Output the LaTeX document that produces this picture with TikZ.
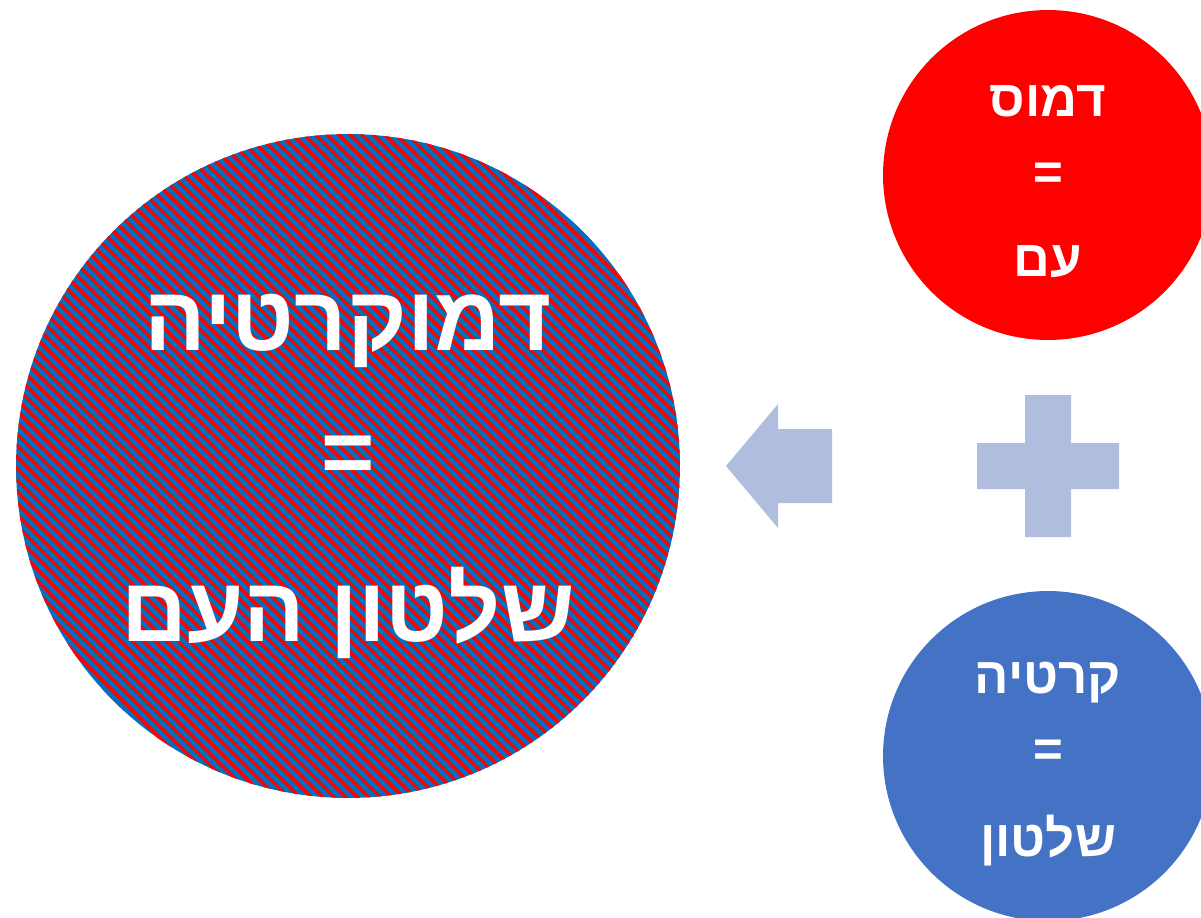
\documentclass[tikz,border=0pt]{standalone}
\usepackage{fontspec}
\newfontfamily\hebfont[Script=Hebrew]{Liberation Sans}
\TeXXeTstate=1

\definecolor{stripeblue}{HTML}{0070C0}
\definecolor{stripered}{HTML}{FF0000}
\definecolor{kratblue}{HTML}{4472C4}
\definecolor{signblue}{HTML}{B0BDDE}

\newcommand*{\rtltext}[1]{\beginR #1\endR}

\tikzset{
	disc/.style={circle, inner sep=0pt, minimum size=6.6cm},
	disctext/.style={inner sep=0pt, text=white, align=center, font=\hebfont\bfseries\fontsize{29}{42}\selectfont},
	bigtext/.style={inner sep=0pt, text=white, align=center, font=\hebfont\bfseries\fontsize{52}{70}\selectfont},
	stripe/.style={stripered, line width=0.07cm},
	sign/.style={fill=signblue}
}

\begin{document}
\begin{tikzpicture}[x=0.02cm, y=-0.02cm]

\useasboundingbox (0,0) rectangle (1201,917);
\clip (0,0) rectangle (1201,917);

% big disc, blue with red stripes
\node[disc, minimum size=13.28cm, fill=stripeblue] (demo) at (348,466) {};
\begin{scope}[shift={(demo.center)}]
	\clip (0,0) circle (6.64cm);
	\foreach \k in {-42,...,42} {
		\draw[stripe] (\k*11.5-700,-700) -- ++(1400,1400);
	}
\end{scope}
\node[bigtext] (demotext) at ([yshift=-6pt]demo.center) {\rtltext{דמוקרטיה}\\[5.7pt] =\\[20pt] \rtltext{שלטון העם}};

% the two parts
\node[disc, fill=red] (demos) at (1048,175) {};
\node[disctext] (demostext) at ([yshift=-3.5pt]demos.center) {\rtltext{דמוס}\\ =\\[7pt] \rtltext{עם}};
\node[disc, fill=kratblue] (kratia) at (1048,756) {};
\node[disctext] (kratiatext) at ([yshift=-4.5pt]kratia.center) {\rtltext{קרטיה}\\ =\\[9pt] \rtltext{שלטון}};

% arrow and plus
\fill[sign] (726,466) -- (778,404) -- (778,429) -- (832,429) -- (832,503)
	-- (778,503) -- (778,528) -- cycle;
\fill[sign] (1025,395) -- (1071,395) -- (1071,443) -- (1119,443) -- (1119,489)
	-- (1071,489) -- (1071,537) -- (1025,537) -- (1025,489) -- (977,489)
	-- (977,443) -- (1025,443) -- cycle;

\end{tikzpicture}
\end{document}
